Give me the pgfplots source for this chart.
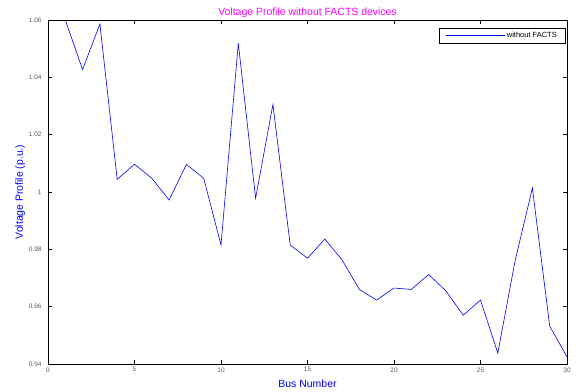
\documentclass[border=0pt]{standalone}
\usepackage{pgfplots}
\pgfplotsset{compat=1.18}
\usepackage{fontspec}
\setmainfont{Liberation Sans}
\definecolor{ticklab}{RGB}{90,90,90}
\definecolor{mag}{RGB}{255,0,255}
\begin{document}
\begin{tikzpicture}
\useasboundingbox (0,0) rectangle (576bp,392bp);
\begin{axis}[
  at={(48bp,28bp)}, anchor=south west,
  width=519bp, height=344bp, scale only axis,
  xmin=0, xmax=30, ymin=0.94, ymax=1.06,
  xtick={0,5,...,30},
  ytick={0.94,0.96,0.98,1,1.02,1.04,1.06},
  yticklabel style={/pgf/number format/fixed,/pgf/number format/precision=2, xshift=-3bp},
  /pgf/number format/assume math mode=true,
  tick label style={font=\fontsize{6.5}{7}\selectfont, text=ticklab},
  tick align=inside, major tick length=4bp,
  axis line style={line width=0.7bp},
  every tick/.style={black, line width=0.6bp},
  title={Voltage Profile without FACTS devices},
  title style={font=\fontsize{10.5}{11}\selectfont, text=mag, yshift=-7bp},
  xlabel={Bus Number},
  ylabel={Voltage Profile (p.u.)},
  label style={font=\fontsize{10.5}{11}\selectfont, text=blue},
  xlabel style={yshift=-1bp},
  ylabel style={yshift=-3bp},
  legend style={at={(rel axis cs:0.996,0.977)}, anchor=north east,
    font=\fontsize{7.5}{8}\selectfont,
    inner xsep=6bp, inner ysep=2bp, row sep=0pt, legend cell align=left},
  legend image code/.code={\draw[#1, draw=blue, line width=0.6bp] (0bp,0bp) -- (59bp,0bp);},
]
\addplot[blue, line width=0.6bp] coordinates {
(1,1.060) (2,1.0427) (3,1.0586) (4,1.0044) (5,1.0097) (6,1.0048)
(7,0.9972) (8,1.0096) (9,1.0048) (10,0.9815) (11,1.0519) (12,0.9978)
(13,1.0305) (14,0.9815) (15,0.9769) (16,0.9836) (17,0.9763) (18,0.9660)
(19,0.9623) (20,0.9665) (21,0.9660) (22,0.9712) (23,0.9655) (24,0.9570)
(25,0.9623) (26,0.9438) (27,0.9760) (28,1.0014) (29,0.9532) (30,0.9425)
};
\addlegendentry{without FACTS}
\end{axis}
\end{tikzpicture}
\end{document}
